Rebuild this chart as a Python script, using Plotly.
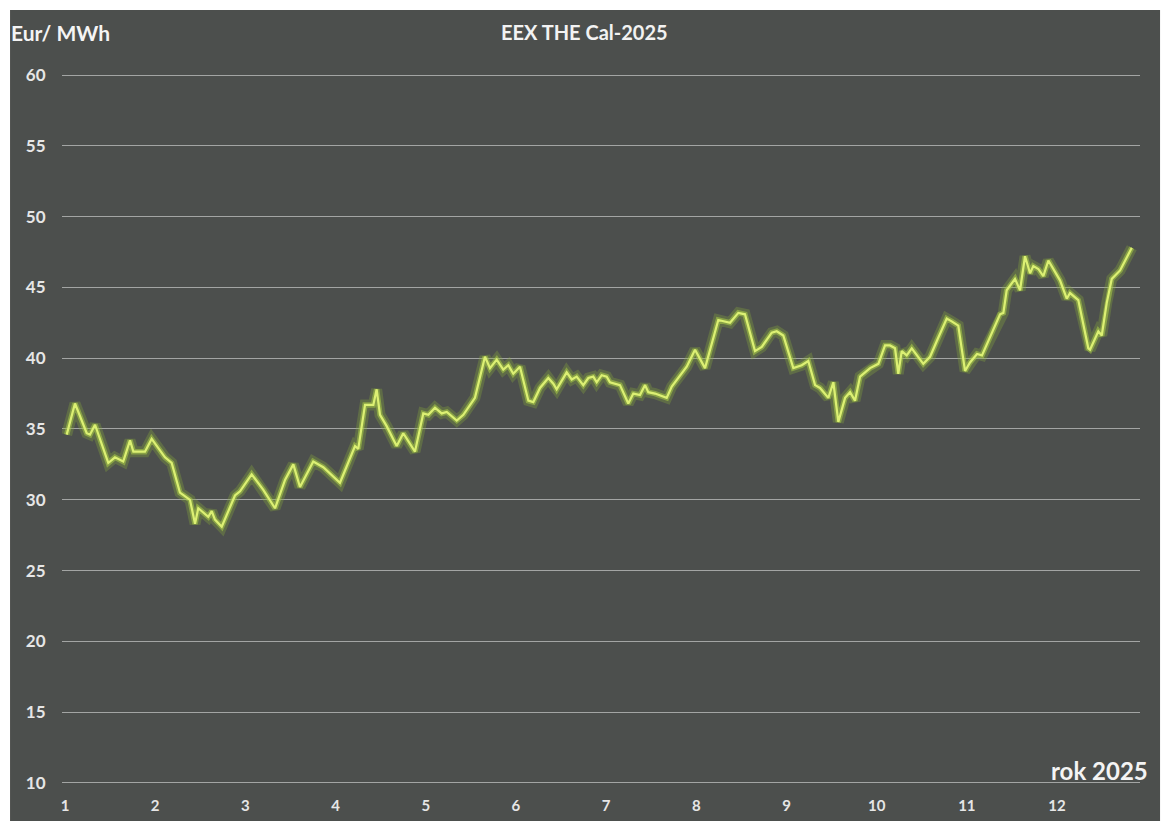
import plotly.graph_objects as go

# Month position (1 = start of January) and EEX THE Cal-2025 price (EUR/MWh)
months = [1.019, 1.111, 1.241, 1.277, 1.333, 1.480, 1.554, 1.646, 1.721, 1.758,
          1.887, 1.961, 2.109, 2.183, 2.275, 2.386, 2.442, 2.478, 2.589, 2.627,
          2.663, 2.738, 2.885, 2.941, 3.070, 3.199, 3.329, 3.440, 3.532, 3.606,
          3.753, 3.864, 4.049, 4.216, 4.252, 4.327, 4.419, 4.456, 4.493, 4.567,
          4.678, 4.751, 4.881, 4.973, 5.029, 5.103, 5.177, 5.233, 5.344, 5.417,
          5.546, 5.657, 5.713, 5.787, 5.860, 5.916, 5.971, 6.045, 6.138, 6.193,
          6.267, 6.359, 6.415, 6.452, 6.563, 6.619, 6.674, 6.747, 6.803, 6.858,
          6.896, 6.951, 7.007, 7.043, 7.154, 7.246, 7.302, 7.376, 7.432, 7.468,
          7.542, 7.672, 7.728, 7.894, 7.986, 8.097, 8.244, 8.300, 8.374, 8.466,
          8.540, 8.651, 8.726, 8.837, 8.892, 8.965, 9.076, 9.169, 9.242, 9.317,
          9.372, 9.464, 9.520, 9.575, 9.650, 9.705, 9.760, 9.816, 9.927, 10.019,
          10.093, 10.148, 10.204, 10.240, 10.278, 10.333, 10.389, 10.517, 10.592, 10.666,
          10.777, 10.832, 10.905, 10.980, 11.035, 11.113, 11.168, 11.368, 11.405, 11.442,
          11.516, 11.534, 11.590, 11.645, 11.701, 11.737, 11.793, 11.848, 11.904, 11.959,
          12.033, 12.108, 12.144, 12.236, 12.347, 12.366, 12.458, 12.496, 12.551, 12.607,
          12.699, 12.829]
prices = [34.6, 36.8, 34.7, 34.6, 35.3, 32.6, 33.0, 32.7, 34.2, 33.4,
          33.4, 34.3, 33.0, 32.6, 30.5, 30.0, 28.3, 29.4, 28.8, 29.2,
          28.6, 28.1, 30.3, 30.6, 31.8, 30.7, 29.4, 31.4, 32.5, 30.9,
          32.7, 32.3, 31.2, 33.8, 33.6, 36.7, 36.7, 37.8, 36.0, 35.2,
          33.8, 34.7, 33.4, 36.1, 36.0, 36.5, 36.1, 36.2, 35.6, 36.0,
          37.2, 40.1, 39.3, 39.9, 39.2, 39.5, 38.9, 39.4, 37.0, 36.9,
          37.9, 38.6, 38.2, 37.8, 39.0, 38.5, 38.7, 38.1, 38.6, 38.7,
          38.3, 38.8, 38.7, 38.3, 38.1, 36.8, 37.5, 37.4, 38.1, 37.6,
          37.5, 37.2, 38.0, 39.4, 40.6, 39.3, 42.7, 42.6, 42.5, 43.2,
          43.1, 40.5, 40.8, 41.8, 41.9, 41.6, 39.3, 39.5, 39.8, 38.1,
          37.9, 37.2, 38.3, 35.5, 37.2, 37.6, 37.0, 38.7, 39.3, 39.6,
          40.9, 40.9, 40.7, 38.9, 40.5, 40.2, 40.7, 39.6, 40.1, 41.2,
          42.8, 42.6, 42.3, 39.1, 39.7, 40.3, 40.2, 43.1, 43.2, 44.8,
          45.5, 45.6, 44.8, 47.2, 46.0, 46.5, 46.3, 45.8, 46.9, 46.3,
          45.5, 44.2, 44.6, 44.1, 40.7, 40.6, 41.9, 41.6, 43.9, 45.6,
          46.2, 47.8]

x_ticks = list(range(1, 13))
x_tick_labels = [str(m) for m in x_ticks]
y_ticks = list(range(10, 61, 5))

title_text = "EEX THE Cal-2025"
y_unit_text = "Eur/ MWh"
x_unit_text = "rok 2025"

BG = "#4c4f4d"
GRID = "#a3a5a4"
FONT = "Lato"

fig = go.Figure()
# glow
fig.add_trace(go.Scatter(x=months, y=prices, mode="lines",
                         line=dict(color="rgba(140,175,60,0.30)", width=11),
                         hoverinfo="skip", showlegend=False))
fig.add_trace(go.Scatter(x=months, y=prices, mode="lines",
                         line=dict(color="rgba(170,205,70,0.55)", width=5.5),
                         hoverinfo="skip", showlegend=False))
fig.add_trace(go.Scatter(x=months, y=prices, mode="lines",
                         line=dict(color="#dcf073", width=2.2),
                         showlegend=False))

fig.update_layout(
    width=1164, height=813,
    margin=dict(l=54, r=32, t=52, b=26),
    paper_bgcolor=BG, plot_bgcolor=BG,
    font=dict(family=FONT, color="#e8e8e8"),
    showlegend=False,
    xaxis=dict(range=[0.967, 12.92], tickvals=x_ticks, ticktext=x_tick_labels,
               showgrid=False, zeroline=False, showline=False, automargin=False,
               ticks="",
               tickfont=dict(size=15, weight="bold", color="#e6e6e6")),
    yaxis=dict(range=[9.15, 61.06], tickvals=y_ticks, automargin=False,
               showgrid=True, gridcolor=GRID, gridwidth=1.3, zeroline=False,
               showline=False, ticks="outside", ticklen=12, tickcolor="rgba(0,0,0,0)",
               tickfont=dict(size=17, weight="bold", color="#e6e6e6")),
    annotations=[
        dict(text=title_text, xref="paper", yref="paper", x=0.485, y=1.038,
             xanchor="center", yanchor="middle", showarrow=False,
             font=dict(size=20, weight="bold", color="#f2f2f2")),
        dict(text=y_unit_text, xref="paper", yref="paper", x=-0.049, y=1.037,
             xanchor="left", yanchor="middle", showarrow=False,
             font=dict(size=21, weight="bold", color="#f4f4f4")),
        dict(text=x_unit_text, xref="paper", yref="paper", x=1.009, y=0.034,
             xanchor="right", yanchor="middle", showarrow=False,
             font=dict(size=24, weight="bold", color="#f4f4f4")),
    ],
    shapes=[
        dict(type="rect", xref="paper", yref="paper", x0=-0.1, x1=1.1, y0=1.068, y1=1.2,
             fillcolor="white", line=dict(width=0), layer="above"),
        dict(type="rect", xref="paper", yref="paper", x0=-0.1, x1=-0.0482, y0=-0.1, y1=1.2,
             fillcolor="white", line=dict(width=0), layer="above"),
        dict(type="rect", xref="paper", yref="paper", x0=1.0186, x1=1.1, y0=-0.1, y1=1.2,
             fillcolor="white", line=dict(width=0), layer="above"),
    ],
)

fig.write_html("out.html")
